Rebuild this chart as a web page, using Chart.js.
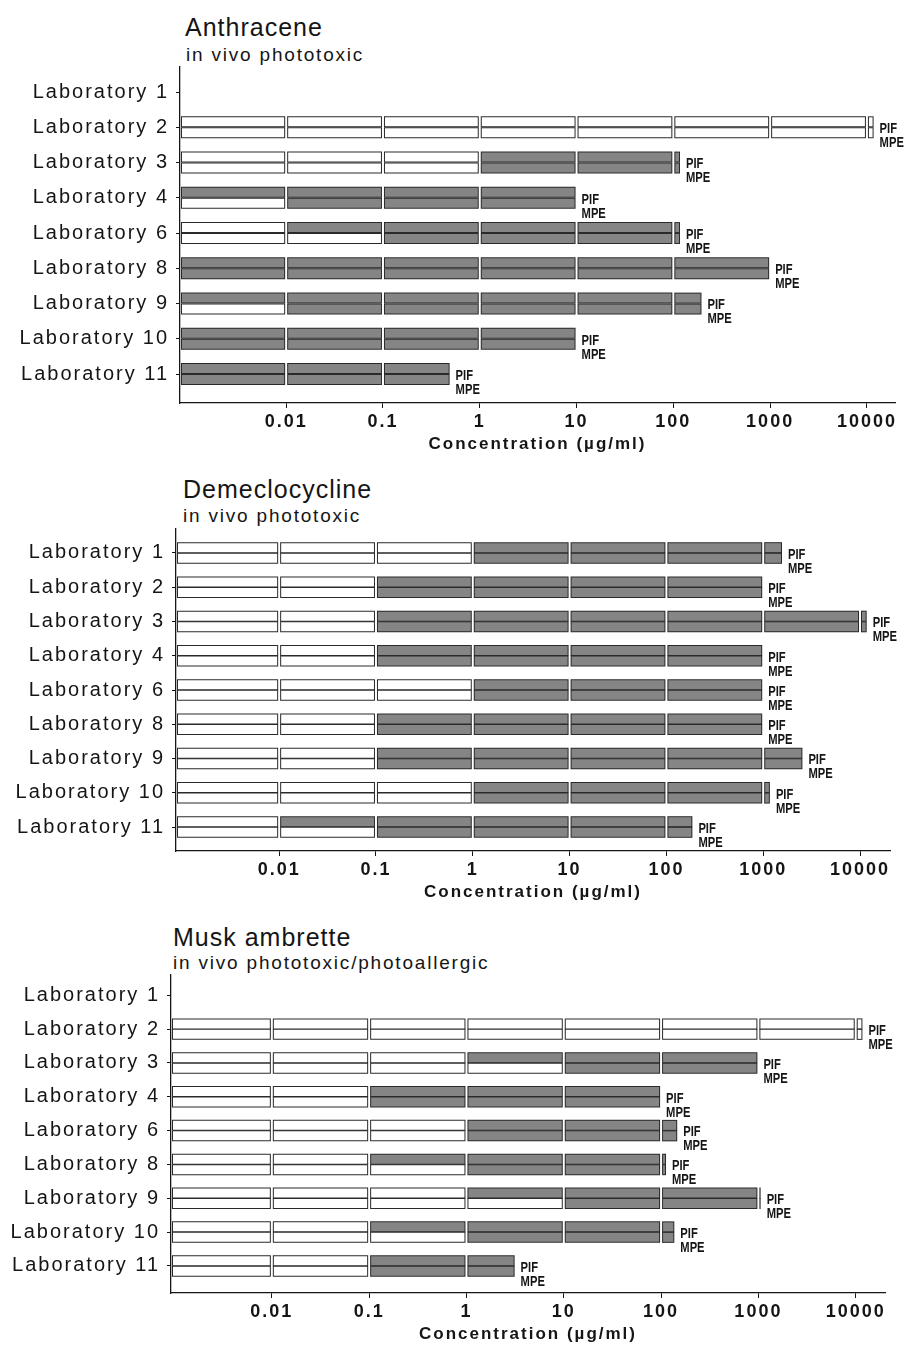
<!DOCTYPE html>
<html>
<head>
<meta charset="utf-8">
<script src="https://cdn.jsdelivr.net/npm/chart.js@4.4.1/dist/chart.umd.min.js"></script>
<style>
  html, body { margin: 0; padding: 0; background: #fff; }
  body { position: relative; width: 920px; height: 1347px; overflow: hidden;
         font-family: 'Liberation Sans', Arial, sans-serif; color: #151515; }
  .title { position: absolute; font-size: 25px; line-height: 30px; letter-spacing: 1px; white-space: nowrap; }
  .sub { position: absolute; font-size: 19px; line-height: 22px; letter-spacing: 1.8px; white-space: nowrap; }
  .panel { position: absolute; left: 0; width: 920px; }
</style>
</head>
<body>
<div class="title" style="left:185px;top:12px">Anthracene</div>
<div class="sub" style="left:186px;top:44px">in vivo phototoxic</div>
<div class="panel" style="top:60px;height:403px"><canvas id="chart-anth"></canvas></div>

<div class="title" style="left:183px;top:474px">Demeclocycline</div>
<div class="sub" style="left:183px;top:505px">in vivo phototoxic</div>
<div class="panel" style="top:520px;height:391px"><canvas id="chart-deme"></canvas></div>

<div class="title" style="left:173px;top:922px">Musk ambrette</div>
<div class="sub" style="left:173px;top:952px">in vivo phototoxic/photoallergic</div>
<div class="panel" style="top:968px;height:379px"><canvas id="chart-musk"></canvas></div>

<script>
// Laboratorios (eje y) y decadas del eje x
const labs = ['Laboratory 1', 'Laboratory 2', 'Laboratory 3', 'Laboratory 4', 'Laboratory 6',
              'Laboratory 8', 'Laboratory 9', 'Laboratory 10', 'Laboratory 11'];
const decades = [0.01, 0.1, 1, 10, 100, 1000, 10000];

// Anthracene: highest concentration tested (null = not tested),
// lowest concentration positive (0 = from the start, null = never)
const anthStart = 0.0008;
const anthEnd = [null, 12000, 120, 10, 120, 1000, 200, 10, 0.5];
const anthPif = [null, null, 1, 0, 0.01, 0, 0, 0, 0];
const anthMpe = [null, null, 1, 0.01, 0.1, 0, 0.01, 0, 0];

// Demeclocycline
const demeStart = 0.00086;
const demeEnd = [1600, 1000, 12000, 1000, 1000, 1000, 2600, 1200, 190];
const demePif = [1, 0.1, 0.1, 0.1, 1, 0.1, 0.1, 1, 0.01];
const demeMpe = [1, 0.1, 0.1, 0.1, 1, 0.1, 0.1, 1, 0.1];

// Musk ambrette
const muskStart = 0.00092;
const muskEnd = [null, 12000, 1000, 100, 150, 115, 1080, 140, 3.2];
const muskPif = [null, null, 1, 0.1, 1, 0.1, 1, 0.1, 0.1];
const muskMpe = [null, null, 10, 0.1, 1, 1, 10, 1, 0.1];

const ink = '#151515';
const gris = '#858585';
const marco = '#2a2a2a';

// un tramo por decada, gris si es positivo
function tramos(start, end, onset) {
    const cortes = [start, ...decades.filter(d => d > start && d < end), end];
    const out = [];
    for (let k = 0; k < cortes.length - 1; k++) {
        out.push({ lo: cortes[k], hi: cortes[k + 1], pos: onset !== null && cortes[k] >= onset });
    }
    return out;
}

const espaciado = {
    id: 'espaciado',
    beforeDraw(chart) { chart.ctx.letterSpacing = '2px'; }
};

// etiquetas PIF / MPE al final de cada barra
const etiquetas = {
    id: 'etiquetas',
    afterDraw(chart, args, opts) {
        const { ctx, scales: { x, y } } = chart;
        ctx.save();
        ctx.letterSpacing = '0px';
        ctx.font = 'bold 14px "Liberation Sans", Arial, sans-serif';
        ctx.fillStyle = ink;
        ctx.textAlign = 'left';
        ctx.textBaseline = 'middle';
        opts.ends.forEach((end, i) => {
            if (end === null) return;
            const px = x.getPixelForValue(end) + 5;
            const py = y.getPixelForValue(i);
            [['PIF', 2], ['MPE', 16]].forEach(([txt, dy]) => {
                ctx.save();
                ctx.translate(px, py + dy);
                ctx.scale(0.8, 1);
                ctx.fillText(txt, 0, 0);
                ctx.restore();
            });
        });
        ctx.restore();
    }
};

function crearPanel(id, p) {
    const off = 0.155;
    const barras = [];
    p.end.forEach((end, i) => {
        if (end === null) return;
        tramos(p.start, end, p.pif[i]).forEach(s => barras.push({ x: [s.lo, s.hi], y: i - off, pos: s.pos }));
        tramos(p.start, end, p.mpe[i]).forEach(s => barras.push({ x: [s.lo, s.hi], y: i + off, pos: s.pos }));
    });

    new Chart(document.getElementById(id), {
        type: 'bar',
        data: {
            datasets: [
                {
                    data: barras.map(b => ({ ...b })),
                    order: 0,
                    grouped: false,
                    barThickness: 13,
                    borderWidth: 0,
                    inflateAmount: -2,
                    backgroundColor: c => (c.raw && c.raw.pos ? gris : '#ffffff')
                },
                {
                    data: barras.map(b => ({ ...b })),
                    order: 1,
                    grouped: false,
                    barThickness: 13,
                    borderWidth: 0,
                    inflateAmount: -1,
                    backgroundColor: marco
                }
            ]
        },
        options: {
            indexAxis: 'y',
            responsive: true,
            maintainAspectRatio: false,
            animation: false,
            layout: { padding: { top: p.padTop, right: 920 - p.right, left: 0, bottom: 0 } },
            scales: {
                x: {
                    type: 'logarithmic',
                    min: p.start,
                    max: p.max,
                    afterFit: s => { s.height = p.axisH; s.paddingLeft = 0; s.paddingRight = 0; },
                    afterBuildTicks: s => { s.ticks = decades.map(v => ({ value: v })); },
                    ticks: {
                        autoSkip: false,
                        maxRotation: 0,
                        padding: 3,
                        color: ink,
                        font: { family: 'Liberation Sans', size: 18, weight: 'bold' },
                        callback: v => String(v)
                    },
                    grid: { drawOnChartArea: false, tickLength: 5, color: ink },
                    border: { color: ink, width: 1.3 },
                    title: {
                        display: true,
                        text: 'Concentration (µg/ml)',
                        color: ink,
                        font: { family: 'Liberation Sans', size: 17, weight: 'bold' },
                        padding: { top: 0, bottom: p.titlePad }
                    }
                },
                y: {
                    type: 'linear',
                    reverse: true,
                    offset: false,
                    bounds: 'data',
                    min: p.ymin,
                    max: p.ymax,
                    afterFit: s => { s.width = p.left; s.paddingTop = 0; s.paddingBottom = 0; },
                    afterBuildTicks: s => { s.ticks = labs.map((_, i) => ({ value: i })); },
                    ticks: {
                        autoSkip: false,
                        padding: 7,
                        color: ink,
                        font: { family: 'Liberation Sans', size: 20 },
                        callback: v => labs[v]
                    },
                    grid: { drawOnChartArea: false, offset: false, tickLength: 4, color: ink },
                    border: { color: ink, width: 1.3 }
                }
            },
            plugins: {
                legend: { display: false },
                tooltip: { enabled: false },
                etiquetas: { ends: p.end }
            }
        },
        plugins: [espaciado, etiquetas]
    });
}

crearPanel('chart-anth', {
    start: anthStart, max: 19500, end: anthEnd, pif: anthPif, mpe: anthMpe,
    left: 180, right: 895, padTop: 7, axisH: 60, titlePad: 8, ymin: -0.71, ymax: 8.82
});
crearPanel('chart-deme', {
    start: demeStart, max: 20400, end: demeEnd, pif: demePif, mpe: demeMpe,
    left: 176, right: 890, padTop: 9, axisH: 60, titlePad: 8, ymin: -0.70, ymax: 8.70
});
crearPanel('chart-musk', {
    start: muskStart, max: 20000, end: muskEnd, pif: muskPif, mpe: muskMpe,
    left: 171, right: 885, padTop: 7, axisH: 54, titlePad: 2, ymin: -0.60, ymax: 8.80
});
</script>
</body>
</html>
